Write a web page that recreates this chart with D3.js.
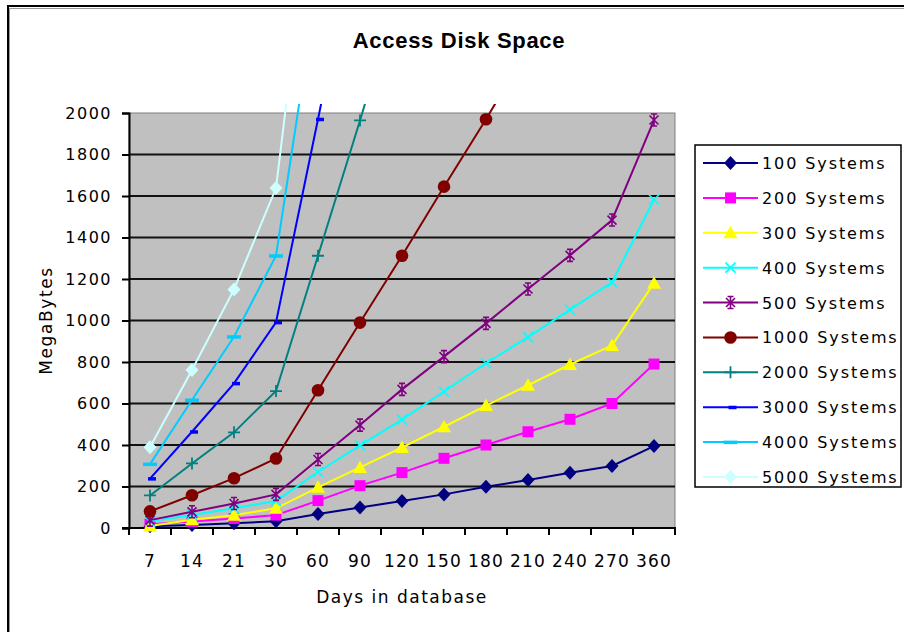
<!DOCTYPE html>
<html>
<head>
<meta charset="utf-8">
<script src="https://cdn.jsdelivr.net/npm/d3@7"></script>
<style>
  html, body { margin: 0; padding: 0; background: #fff; }
  svg { display: block; }
  text { font-family: "DejaVu Sans", Verdana, sans-serif; fill: #000; }
</style>
</head>
<body>
<svg id="chart" width="904" height="632"></svg>
<script>
// ---------- data ----------
const days = ["7", "14", "21", "30", "60", "90", "120", "150", "180", "210", "240", "270", "360"];
const yTickValues = [0, 200, 400, 600, 800, 1000, 1200, 1400, 1600, 1800, 2000];

const sys100  = [8, 15, 23, 33, 68, 99, 130, 162, 199, 231, 266, 299, 395];
const sys200  = [18, 31, 46, 62, 132, 204, 267, 336, 400, 464, 524, 600, 790];
const sys300  = [10, 40, 62, 95, 196, 292, 388, 488, 590, 688, 788, 880, 1180];
const sys400  = [32, 63, 95, 130, 270, 398, 522, 658, 794, 920, 1052, 1184, 1582];
const sys500  = [38, 78, 118, 162, 330, 496, 668, 826, 986, 1152, 1314, 1484, 1966];
const sys1000 = [80, 158, 240, 335, 664, 990, 1312, 1645, 1970, 2310, null, null, null];
const sys2000 = [157, 311, 461, 660, 1312, 1964, 2640, null, null, null, null, null, null];
const sys3000 = [238, 464, 697, 991, 1970, 2970, null, null, null, null, null, null, null];
const sys4000 = [308, 617, 922, 1312, 2640, null, null, null, null, null, null, null, null];
const sys5000 = [389, 761, 1150, 1638, 3300, null, null, null, null, null, null, null, null];

const seriesNames = ["100 Systems", "200 Systems", "300 Systems", "400 Systems", "500 Systems",
                     "1000 Systems", "2000 Systems", "3000 Systems", "4000 Systems", "5000 Systems"];
const seriesValues = [sys100, sys200, sys300, sys400, sys500, sys1000, sys2000, sys3000, sys4000, sys5000];
const seriesColors = ["#000080", "#FF00FF", "#FFFF00", "#00FFFF", "#800080",
                      "#800000", "#008080", "#0000FF", "#00CCFF", "#CCFFFF"];
const seriesMarkers = ["diamond", "square", "triangle", "x", "star",
                       "circle", "plus", "dashShort", "dashLong", "diamond"];

const chartTitle = "Access Disk Space";
const xTitle = "Days in database";
const yTitle = "MegaBytes";

// ---------- layout ----------
const svg = d3.select("#chart");
const plot = { left: 129, right: 675, top: 113, bottom: 528 };

const x = d3.scaleBand().domain(days).range([plot.left, plot.right]).padding(0);
const y = d3.scaleLinear().domain([0, 2000]).range([plot.bottom, plot.top]);
const cx = d => x(d) + x.bandwidth() / 2;

// outer chart border
svg.append("rect").attr("x", 0).attr("y", 0).attr("width", 904).attr("height", 632).attr("fill", "#fff");
svg.append("path").attr("d", "M9.5,632 V8.5 H904").attr("fill", "none").attr("stroke", "#999").attr("stroke-width", 1);
svg.append("path").attr("d", "M8,632 V6 H904").attr("fill", "none").attr("stroke", "#000").attr("stroke-width", 2);

// title
svg.append("text")
  .attr("x", 459).attr("y", 48)
  .attr("text-anchor", "middle")
  .style("font-family", "'Liberation Sans', Arial, sans-serif")
  .style("font-weight", "bold")
  .style("font-size", "22px")
  .style("letter-spacing", "0.7px")
  .text(chartTitle);

// plot background
svg.append("rect")
  .attr("x", plot.left).attr("y", plot.top)
  .attr("width", plot.right - plot.left).attr("height", plot.bottom - plot.top)
  .attr("fill", "#C0C0C0").attr("stroke", "#808080").attr("stroke-width", 1);

// gridlines
svg.append("g")
  .selectAll("line")
  .data(yTickValues.filter(v => v > 0 && v < 2000))
  .join("line")
  .attr("x1", plot.left).attr("x2", plot.right)
  .attr("y1", d => y(d)).attr("y2", d => y(d))
  .attr("stroke", "#111").attr("stroke-width", 2);

// y axis
const yAxis = svg.append("g")
  .attr("transform", `translate(${plot.left},0)`)
  .call(d3.axisLeft(y).tickValues(yTickValues).tickSize(7).tickPadding(10).tickFormat(d3.format("d")));
yAxis.select(".domain").attr("stroke", "#000").attr("stroke-width", 2);
yAxis.selectAll(".tick line").attr("stroke", "#000").attr("stroke-width", 2);
yAxis.selectAll(".tick text")
  .style("font-family", "'DejaVu Sans', Verdana, sans-serif")
  .style("font-size", "16px").style("letter-spacing", "1.5px").attr("fill", "#000");

// x axis (labels at category centres, ticks at category boundaries)
const xAxis = svg.append("g")
  .attr("transform", `translate(0,${plot.bottom})`)
  .call(d3.axisBottom(x).tickSize(0).tickPadding(27));
xAxis.select(".domain").remove();
xAxis.selectAll(".tick text")
  .style("font-family", "'DejaVu Sans', Verdana, sans-serif")
  .style("font-size", "17px").style("letter-spacing", "1.2px").attr("fill", "#000");
const boundaries = days.map(d => x(d)).concat([x(days[days.length - 1]) + x.bandwidth()]);
svg.append("g").selectAll("line").data(boundaries).join("line")
  .attr("x1", d => d).attr("x2", d => d)
  .attr("y1", plot.bottom).attr("y2", plot.bottom + 7)
  .attr("stroke", "#000").attr("stroke-width", 2);
svg.append("line")
  .attr("x1", plot.left - 7).attr("x2", plot.right + 1)
  .attr("y1", plot.bottom).attr("y2", plot.bottom)
  .attr("stroke", "#000").attr("stroke-width", 2);

// axis titles
svg.append("text")
  .attr("x", (plot.left + plot.right) / 2).attr("y", 603)
  .attr("text-anchor", "middle")
  .style("font-size", "17px").style("letter-spacing", "1.5px")
  .text(xTitle);
svg.append("text")
  .attr("transform", `translate(52,${(plot.top + plot.bottom) / 2}) rotate(-90)`)
  .attr("text-anchor", "middle")
  .style("font-size", "17px").style("letter-spacing", "1.6px")
  .text(yTitle);

// ---------- markers ----------
function drawMarker(g, type, color) {
  switch (type) {
    case "diamond":
      g.append("path").attr("d", "M0,-7 L6.5,0 L0,7 L-6.5,0Z").attr("fill", color);
      break;
    case "square":
      g.append("rect").attr("x", -5.5).attr("y", -5.5).attr("width", 11).attr("height", 11).attr("fill", color);
      break;
    case "triangle":
      g.append("path").attr("d", "M0,-7 L7,5.5 L-7,5.5Z").attr("fill", color);
      break;
    case "x":
      g.append("path").attr("d", "M-5,-5 L5,5 M-5,5 L5,-5").attr("stroke", color).attr("stroke-width", 1.6).attr("fill", "none");
      break;
    case "star":
      g.append("path").attr("d", "M-4.5,-4.5 L4.5,4.5 M-4.5,4.5 L4.5,-4.5 M0,-6 L0,6 M-3,-6 L3,-6 M-3,6 L3,6")
        .attr("stroke", color).attr("stroke-width", 1.6).attr("fill", "none");
      break;
    case "circle":
      g.append("circle").attr("r", 6.3).attr("fill", color);
      break;
    case "plus":
      g.append("path").attr("d", "M-6,0 L6,0 M0,-6 L0,6").attr("stroke", color).attr("stroke-width", 1.8).attr("fill", "none");
      break;
    case "dashShort":
      g.append("rect").attr("x", -2).attr("y", -1.5).attr("width", 8).attr("height", 3.5).attr("fill", color);
      break;
    case "dashLong":
      g.append("rect").attr("x", -7).attr("y", -1.5).attr("width", 14).attr("height", 3.5).attr("fill", color);
      break;
  }
}

// ---------- series ----------
svg.append("defs").append("clipPath").attr("id", "plotClip")
  .append("rect").attr("x", plot.left).attr("y", 104)
  .attr("width", plot.right - plot.left).attr("height", 460);

const seriesLayer = svg.append("g").attr("clip-path", "url(#plotClip)");
const line = d3.line()
  .defined(d => d.v != null)
  .x(d => cx(d.day))
  .y(d => y(d.v));

seriesValues.forEach((vals, i) => {
  const pts = days.map((day, j) => ({ day, v: vals[j] }));
  const g = seriesLayer.append("g");
  g.append("path")
    .datum(pts)
    .attr("d", line)
    .attr("fill", "none")
    .attr("stroke", seriesColors[i])
    .attr("stroke-width", 2);
  pts.filter(p => p.v != null && p.v <= 2000).forEach(p => {
    const m = g.append("g").attr("transform", `translate(${cx(p.day)},${y(p.v)})`);
    drawMarker(m, seriesMarkers[i], seriesColors[i]);
  });
});

// ---------- legend ----------
const legend = svg.append("g");
legend.append("rect")
  .attr("x", 695).attr("y", 145).attr("width", 206).attr("height", 342)
  .attr("fill", "#fff").attr("stroke", "#000").attr("stroke-width", 1.5);

const legendY = d3.scalePoint().domain(seriesNames).range([163, 477]);
seriesNames.forEach((name, i) => {
  const ly = legendY(name);
  legend.append("line")
    .attr("x1", 703).attr("x2", 758).attr("y1", ly).attr("y2", ly)
    .attr("stroke", seriesColors[i]).attr("stroke-width", 2);
  const m = legend.append("g").attr("transform", `translate(730.5,${ly})`);
  drawMarker(m, seriesMarkers[i], seriesColors[i]);
  legend.append("text")
    .attr("x", 762).attr("y", ly + 6)
    .style("font-size", "16px").style("letter-spacing", "1.9px")
    .text(name);
});
</script>
</body>
</html>
